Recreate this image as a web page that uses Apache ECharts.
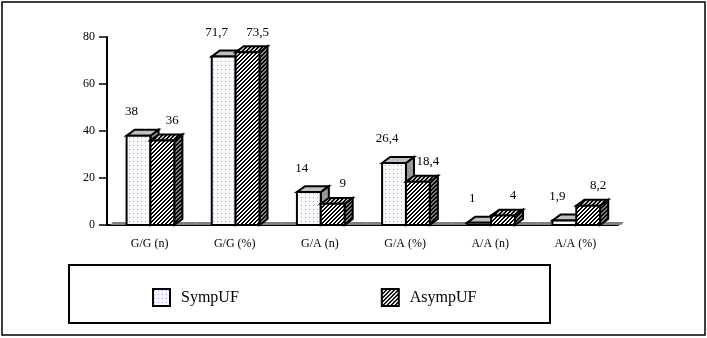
<!DOCTYPE html>
<html>
<head>
<meta charset="utf-8">
<script src="https://cdn.jsdelivr.net/npm/echarts@6/dist/echarts.min.js"></script>
<style>
  html, body { margin: 0; padding: 0; background: #fff; }
  #chart { width: 707px; height: 338px; }
</style>
</head>
<body>
<div id="chart"></div>
<script>
const categories = ['G/G (n)', 'G/G (%)', 'G/A (n)', 'G/A (%)', 'A/A (n)', 'A/A (%)']
const sympUF = [38, 71.7, 14, 26.4, 1, 1.9]
const asympUF = [36, 73.5, 9, 18.4, 4, 8.2]
const yTicks = [0, 20, 40, 60, 80]

const serif = '"Liberation Serif", "DejaVu Serif", serif'

// fill patterns
function makePattern(size, bg, draw) {
  const c = document.createElement('canvas')
  c.width = size; c.height = size
  const ctx = c.getContext('2d')
  ctx.fillStyle = bg
  ctx.fillRect(0, 0, size, size)
  draw(ctx)
  return { image: c, repeat: 'repeat' }
}
const dots = makePattern(4, '#fafaff', ctx => {
  ctx.fillStyle = '#9a9aec'
  ctx.fillRect(1, 1, 1, 1)
})
function hatch(bg) {
  return makePattern(4, bg, ctx => {
    ctx.fillStyle = '#000'
    for (let x = 0; x < 4; x++) {
      for (let y = 0; y < 4; y++) {
        if ((x + y) % 4 < 2) ctx.fillRect(x, y, 1, 1)
      }
    }
  })
}
const hatchFront = hatch('#ffffff')
const hatchTop = hatch('#c8c8c8')
const hatchSide = hatch('#808080')

const styles = [
  { front: dots, top: '#c0c0c0', side: '#999999', lx: -7, ly: -24 },
  { front: hatchFront, top: hatchTop, side: hatchSide, lx: 10, ly: -20 }
]

function fmt(v) {
  return String(v).replace('.', ',')
}

function bar3D(si) {
  return function (params, api) {
    const idx = api.value(0)
    const val = api.value(1)
    const base = api.coord([idx, 0])
    const top = api.coord([idx, val])
    const band = api.size([1, 0])[0]
    const w = band * 0.28
    const dx = band * 0.095
    const dy = band * 0.07
    const x0 = base[0] - band * 0.27 + si * w
    const x1 = x0 + w
    const yb = base[1]
    const yt = top[1]
    const st = styles[si]
    const line = { stroke: '#000', lineWidth: 2, lineJoin: 'miter' }
    const children = []
    if (si === 0) {
      // floor strip
      children.push({
        type: 'polygon',
        z2: -1,
        shape: { points: [[base[0] - band / 2 + 3, yb], [base[0] - band / 2 + 6, yb - 3], [base[0] + band / 2 + 6, yb - 3], [base[0] + band / 2 + 3, yb]] },
        style: { fill: '#808080' }
      })
    }
    children.push({
      type: 'polygon',
      shape: { points: [[x1, yt], [x1 + dx, yt - dy], [x1 + dx, yb - dy], [x1, yb]] },
      style: Object.assign({ fill: st.side }, line)
    })
    children.push({
      type: 'polygon',
      shape: { points: [[x0, yt], [x0 + dx, yt - dy], [x1 + dx, yt - dy], [x1, yt]] },
      style: Object.assign({ fill: st.top }, line)
    })
    children.push({
      type: 'rect',
      shape: { x: x0, y: yt, width: w, height: yb - yt },
      style: Object.assign({ fill: st.front }, line)
    })
    children.push({
      type: 'text',
      style: {
        text: fmt(val),
        x: (x0 + x1) / 2 + st.lx,
        y: yt + st.ly,
        align: 'center',
        verticalAlign: 'middle',
        font: '13px ' + serif,
        fill: '#000'
      }
    })
    return { type: 'group', children: children }
  }
}

const myChart = echarts.init(document.getElementById('chart'))

const chartOption = {
  animation: false,
  backgroundColor: '#fff',
  grid: { left: 107, right: 89, top: 37, bottom: 113 },
  xAxis: {
    type: 'category',
    data: categories,
    axisLine: { lineStyle: { color: '#000', width: 2 } },
    axisTick: { length: 6, lineStyle: { color: '#000', width: 2 } },
    axisLabel: { color: '#000', fontSize: 12, fontFamily: serif, margin: 13 }
  },
  yAxis: {
    type: 'value',
    min: yTicks[0],
    max: yTicks[yTicks.length - 1],
    interval: 20,
    splitLine: { show: false },
    axisLine: { show: true, lineStyle: { color: '#000', width: 2 } },
    axisTick: { show: true, length: 8, lineStyle: { color: '#000', width: 1.5 } },
    axisLabel: { color: '#000', fontSize: 12, fontFamily: serif, margin: 12 }
  },
  legend: {
    left: 147,
    top: 283,
    itemWidth: 17,
    itemHeight: 17,
    itemGap: 142,
    textStyle: { fontSize: 16, fontFamily: serif, color: '#000', padding: [6, 0, 0, 6] },
    data: [
      { name: 'SympUF', icon: 'rect', itemStyle: { color: dots, borderColor: '#000', borderWidth: 2 } },
      { name: 'AsympUF', icon: 'rect', itemStyle: { color: hatchFront, borderColor: '#000', borderWidth: 2 } }
    ]
  },
  graphic: [
    { type: 'rect', shape: { x: 2, y: 2, width: 703, height: 333 }, style: { fill: 'none', stroke: '#000', lineWidth: 1.5 } },
    { type: 'rect', shape: { x: 69, y: 265, width: 481, height: 58 }, style: { fill: 'none', stroke: '#000', lineWidth: 2 } }
  ],
  series: [
    {
      name: 'SympUF',
      type: 'custom',
      renderItem: bar3D(0),
      itemStyle: { color: dots },
      z: 2,
      data: sympUF.map((v, i) => [i, v])
    },
    {
      name: 'AsympUF',
      type: 'custom',
      renderItem: bar3D(1),
      itemStyle: { color: hatchFront },
      z: 3,
      data: asympUF.map((v, i) => [i, v])
    }
  ]
}

myChart.setOption(chartOption)
</script>
</body>
</html>
